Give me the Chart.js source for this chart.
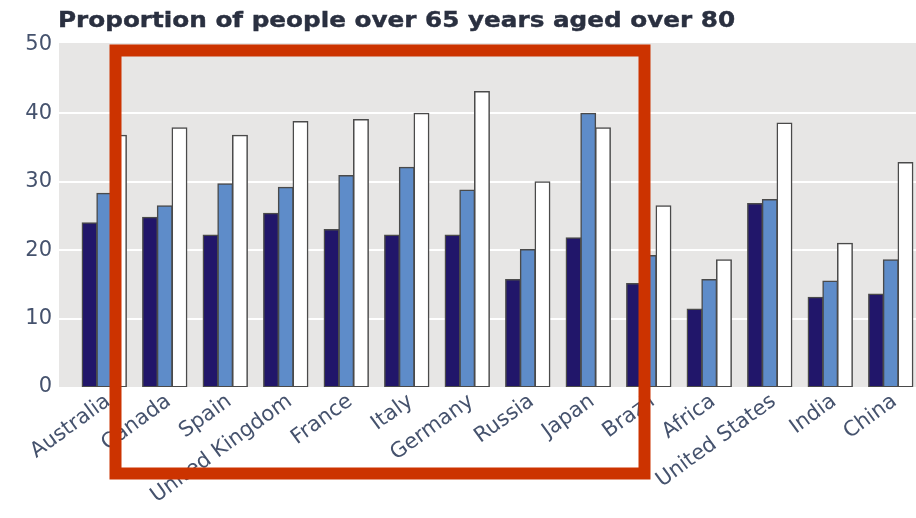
<!DOCTYPE html>
<html>
<head>
<meta charset="utf-8">
<script src="https://cdn.jsdelivr.net/npm/chart.js@4"></script>
<style>
  html, body { margin: 0; padding: 0; background: #fff; overflow: hidden; }
  #wrap { position: relative; width: 916px; height: 518px; overflow: hidden; }
  #title {
    position: absolute; left: 58px; top: 8px; white-space: nowrap;
    font: bold 21px "DejaVu Sans", sans-serif; color: #2a3040;
    -webkit-text-stroke: 0.4px #2a3040;
    transform-origin: 0 0;
  }
  canvas { position: absolute; left: 0; top: 0; }
</style>
</head>
<body>
<div id="wrap">
  <canvas id="chart" width="921" height="518"></canvas>
  <div id="title">Proportion of people over 65 years aged over 80</div>
</div>
<script>
const countries = ['Australia', 'Canada', 'Spain', 'United Kingdom', 'France', 'Italy', 'Germany',
  'Russia', 'Japan', 'Brazil', 'Africa', 'United States', 'India', 'China'];
const seriesA = [24.0, 24.8, 22.2, 25.4, 23.0, 22.2, 22.2, 15.7, 21.8, 15.1, 11.4, 26.8, 13.1, 13.6];
const seriesB = [28.3, 26.5, 29.7, 29.2, 30.9, 32.1, 28.8, 20.1, 40.0, 19.2, 15.7, 27.4, 15.5, 18.6];
const seriesC = [36.8, 37.9, 36.8, 38.8, 39.1, 40.0, 43.2, 30.0, 37.9, 26.5, 18.6, 38.6, 21.0, 32.8];
const yTicks = [0, 10, 20, 30, 40, 50];

// stretch the title to the width it has in the picture
const title = document.getElementById('title');
title.style.transform = 'scaleX(' + (677 / title.offsetWidth) + ')';

const labelColor = '#45526d';

// the source text is set wide, so space the canvas letters out a little
const spacing = {
  id: 'spacing',
  beforeInit(chart) { chart.ctx.letterSpacing = '1.7px'; },
};

// grey plot panel with white grid lines, a bit wider than the chart area
const panel = {
  id: 'panel',
  beforeDraw(chart) {
    const { ctx, chartArea, scales } = chart;
    ctx.save();
    ctx.fillStyle = '#e7e6e5';
    ctx.fillRect(59, chartArea.top - 2, chartArea.right - 59, chartArea.bottom - chartArea.top + 2);
    ctx.strokeStyle = '#ffffff';
    ctx.lineWidth = 2;
    yTicks.slice(1, -1).forEach((v) => {
      const y = Math.round(scales.y.getPixelForValue(v));
      ctx.beginPath();
      ctx.moveTo(59, y);
      ctx.lineTo(chartArea.right, y);
      ctx.stroke();
    });
    ctx.restore();
  },
  // red highlight box
  afterDraw(chart) {
    const ctx = chart.ctx;
    ctx.save();
    ctx.strokeStyle = '#cc3300';
    ctx.lineWidth = 12;
    ctx.strokeRect(115.5, 50.5, 529, 423);
    ctx.restore();
  },
};

const barStyle = {
  borderColor: '#4a4a4a', borderWidth: 1.5, borderSkipped: false, inflateAmount: 0.6,
  categoryPercentage: 0.73, barPercentage: 1.0,
};

new Chart(document.getElementById('chart'), {
  type: 'bar',
  data: {
    labels: countries,
    datasets: [
      { data: seriesA, backgroundColor: '#21166a', ...barStyle },
      { data: seriesB, backgroundColor: '#5e8cc9', ...barStyle },
      { data: seriesC, backgroundColor: '#ffffff', ...barStyle },
    ],
  },
  options: {
    responsive: false,
    animation: false,
    layout: { padding: { top: 45, left: 0, right: 0, bottom: 0 } },
    plugins: { legend: { display: false }, tooltip: { enabled: false } },
    scales: {
      x: {
        grid: { display: false },
        border: { display: false },
        ticks: {
          autoSkip: false, minRotation: 36, maxRotation: 36, padding: -6, labelOffset: 4,
          color: labelColor, font: { family: 'DejaVu Sans', size: 21 },
        },
        afterFit(scale) { scale.height = 131; },
      },
      y: {
        min: 0, max: 50,
        grid: { display: false, drawTicks: false },
        border: { display: false },
        ticks: {
          stepSize: 10, padding: 22,
          color: labelColor, font: { family: 'DejaVu Sans', size: 21 },
        },
        afterFit(scale) { scale.width = 74; },
      },
    },
  },
  plugins: [spacing, panel],
});
</script>
</body>
</html>
